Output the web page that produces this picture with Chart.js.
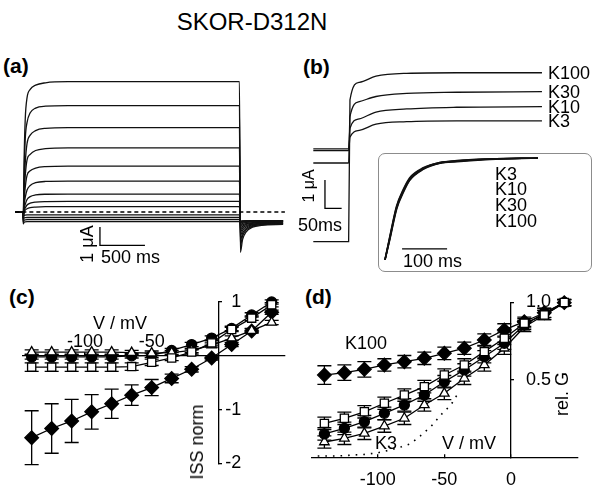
<!DOCTYPE html>
<html>
<head>
<meta charset="utf-8">
<script src="https://cdn.jsdelivr.net/npm/chart.js@4.4.1/dist/chart.umd.min.js"></script>
<style>
  body { margin: 0; background: #fff; }
  #page { position: relative; width: 594px; height: 490px; overflow: hidden; font-family: 'Liberation Sans', Arial, sans-serif; color: #000; }
  canvas { position: absolute; }
  .lbl { position: absolute; font-size: 18px; line-height: 1; white-space: nowrap; transform: translateY(-50%); }
  .mid { transform: translate(-50%, -50%); }
  .rot { transform: translate(-50%, -50%) rotate(-90deg); }
  .panel { font-weight: bold; font-size: 21px; }
  #inset { position: absolute; left: 378px; top: 153px; width: 212px; height: 117px; border: 1px solid #8c8c8c; border-radius: 7px; }
</style>
</head>
<body>
<div id="page">
  <div class="lbl mid" style="left:252px;top:22px;font-size:24px">SKOR-D312N</div>

  <div class="lbl panel" style="left:3px;top:65px">(a)</div>
  <div class="lbl panel" style="left:303px;top:66px">(b)</div>
  <div class="lbl panel" style="left:9px;top:296px">(c)</div>
  <div class="lbl panel" style="left:305px;top:296px">(d)</div>

  <canvas id="chartA" width="300" height="220" style="left:0;top:60px"></canvas>
  <div class="lbl rot" style="left:87px;top:244px">1 μA</div>
  <div class="lbl" style="left:101px;top:257px">500 ms</div>

  <div id="inset"></div>
  <canvas id="chartB" width="297" height="230" style="left:297px;top:50px"></canvas>
  <canvas id="chartInset" width="212" height="117" style="left:379px;top:154px"></canvas>
  <div class="lbl" style="left:548px;top:73px">K100</div>
  <div class="lbl" style="left:548px;top:92px">K30</div>
  <div class="lbl" style="left:548px;top:107px">K10</div>
  <div class="lbl" style="left:548px;top:121px">K3</div>
  <div class="lbl" style="left:495px;top:174px">K3</div>
  <div class="lbl" style="left:495px;top:189px">K10</div>
  <div class="lbl" style="left:495px;top:205px">K30</div>
  <div class="lbl" style="left:495px;top:221px">K100</div>
  <div class="lbl" style="left:403px;top:261px">100 ms</div>
  <div class="lbl" style="left:298px;top:225px">50ms</div>
  <div class="lbl rot" style="left:309px;top:186px;font-size:16px">1 μA</div>

  <canvas id="chartC" width="297" height="210" style="left:0;top:280px"></canvas>
  <div class="lbl mid" style="left:120px;top:323px">V / mV</div>
  <div class="lbl rot" style="left:197px;top:442px">ISS norm</div>

  <canvas id="chartD" width="297" height="210" style="left:297px;top:280px"></canvas>
  <div class="lbl" style="left:345px;top:343px">K100</div>
  <div class="lbl" style="left:375px;top:443px">K3</div>
  <div class="lbl" style="left:442px;top:443px">V / mV</div>
  <div class="lbl rot" style="left:562px;top:394px">rel. G</div>
</div>

<script>
const FONT = "'Liberation Sans', Arial, sans-serif"
Chart.defaults.font.family = FONT
Chart.defaults.color = '#000'

// (a) voltage-step traces: time in ms, current in µA
const timeA = [-85, -2, 3, 12, 25, 45, 80, 140, 250, 500, 2405, 2415, 2440, 2480, 2550, 2650, 2890]
const tracesA = [
	[0, 0, -0.3, 2.8, 5.1, 6.25, 6.7, 6.93, 7.06, 7.12, 7.12, -2.2, -1.5, -1.08, -0.83, -0.73, -0.68],
	[0, 0, -0.3, 2.0, 4.0, 4.9, 5.42, 5.68, 5.78, 5.81, 5.81, -1.85, -1.3, -0.98, -0.78, -0.7, -0.66],
	[0, 0, -0.3, 1.4, 2.7, 3.75, 4.2, 4.45, 4.57, 4.61, 4.61, -1.55, -1.15, -0.9, -0.75, -0.68, -0.64],
	[0, 0, -0.3, 1.0, 2.0, 2.85, 3.15, 3.36, 3.46, 3.5, 3.5, -1.3, -1.0, -0.82, -0.71, -0.65, -0.62],
	[0, 0, -0.3, 0.6, 1.35, 2.0, 2.25, 2.4, 2.48, 2.51, 2.51, -1.1, -0.88, -0.75, -0.67, -0.62, -0.6],
	[0, 0, -0.3, 0.35, 0.8, 1.2, 1.45, 1.6, 1.67, 1.69, 1.69, -0.95, -0.78, -0.68, -0.62, -0.59, -0.57],
	[0, 0, -0.3, 0.15, 0.42, 0.68, 0.84, 0.93, 0.97, 0.98, 0.98, -0.8, -0.7, -0.63, -0.58, -0.56, -0.55],
	[0, 0, -0.3, 0.05, 0.22, 0.38, 0.48, 0.54, 0.57, 0.58, 0.58, -0.7, -0.62, -0.57, -0.55, -0.53, -0.52],
	[0, 0, -0.3, 0.0, 0.1, 0.18, 0.24, 0.27, 0.29, 0.29, 0.29, -0.62, -0.56, -0.53, -0.51, -0.5, -0.5],
	[0, 0, -0.35, -0.2, -0.17, -0.16, -0.16, -0.16, -0.16, -0.16, -0.16, -0.55, -0.52, -0.5, -0.49, -0.49, -0.49],
	[0, 0, -0.45, -0.33, -0.31, -0.3, -0.3, -0.3, -0.3, -0.3, -0.3, -0.55, -0.52, -0.5, -0.49, -0.49, -0.49],
	[0, 0, -0.55, -0.45, -0.43, -0.42, -0.42, -0.42, -0.42, -0.42, -0.42, -0.52, -0.5, -0.49, -0.48, -0.48, -0.48],
	[0, 0, -0.65, -0.56, -0.54, -0.53, -0.53, -0.53, -0.53, -0.53, -0.53, -0.5, -0.49, -0.48, -0.48, -0.48, -0.48],
]
const zeroLineA = [{ x: -85, y: 0 }, { x: 2910, y: 0 }]
const scaleBarA = [{ x: 855, y: -0.82 }, { x: 855, y: -1.82 }, { x: 1355, y: -1.82 }]

// (b) traces at different external K+
const timeB = [-108, -2, 2, 30, 80, 172, 322, 578]
const k100B = [-2.78, -2.78, 2.23, 2.85, 3.07, 3.17, 3.19, 3.19]
const k30B = [0, 0, 1.64, 2.17, 2.35, 2.46, 2.5, 2.52]
const k10B = [0.5, 0.5, 1.23, 1.56, 1.8, 1.91, 1.97, 1.99]
const k3B = [0.44, 0.44, 0.91, 1.15, 1.37, 1.46, 1.49, 1.49]
const scaleBarB = [{ x: -73, y: -0.6 }, { x: -73, y: -1.6 }, { x: -23, y: -1.6 }]

// (b) inset, normalised activation
const timeInset = [0, 11, 26, 41, 55, 85, 122, 160, 233, 340]
const insetK3 = [0.02, 0.24, 0.53, 0.69, 0.8, 0.9, 0.955, 0.97, 0.99, 1.0]
const insetK10 = [0.02, 0.23, 0.52, 0.68, 0.79, 0.895, 0.95, 0.97, 0.99, 1.0]
const insetK30 = [0.02, 0.25, 0.54, 0.7, 0.81, 0.905, 0.955, 0.975, 0.99, 1.0]
const insetK100 = [0.02, 0.22, 0.51, 0.67, 0.785, 0.89, 0.95, 0.965, 0.985, 1.0]
const scaleBarInset = [{ x: 38, y: 0.125 }, { x: 138, y: 0.125 }]

// (c) and (d) share the voltage steps
const voltages = [-140, -125, -110, -95, -80, -65, -50, -35, -20, -5, 10, 25, 40]

const issK3 = [0.07, 0.07, 0.07, 0.07, 0.07, 0.06, 0.05, 0.06, 0.1, 0.2, 0.33, 0.47, 0.62]
const issK10 = [-0.02, -0.02, -0.02, -0.02, -0.02, 0.0, 0.01, 0.1, 0.21, 0.33, 0.51, 0.76, 1.0]
const issK30 = [-0.21, -0.21, -0.21, -0.21, -0.21, -0.2, -0.12, -0.04, 0.07, 0.24, 0.49, 0.7, 0.95]
const issK100 = [-1.52, -1.35, -1.21, -1.04, -0.89, -0.73, -0.59, -0.42, -0.25, -0.04, 0.21, 0.46, 0.81]
const issErrK3 = [0.04, 0.04, 0.04, 0.04, 0.04, 0.04, 0.04, 0.04, 0.04, 0.04, 0.04, 0.04, 0.04]
const issErrK10 = [0.04, 0.04, 0.04, 0.04, 0.04, 0.04, 0.04, 0.04, 0.04, 0.04, 0.04, 0.04, 0.04]
const issErrK30 = [0.08, 0.08, 0.08, 0.08, 0.08, 0.07, 0.06, 0.05, 0.04, 0.04, 0.04, 0.04, 0.04]
const issErrK100 = [0.5, 0.46, 0.4, 0.32, 0.27, 0.19, 0.15, 0.08, 0.05, 0.04, 0.04, 0.04, 0.04]
const xTicksC = [-100, -50]
const yTicksC = [1, -1, -2]
const yTickLabelsC = ['1', '-1', '-2']

const gK3 = [0.1, 0.124, 0.156, 0.203, 0.253, 0.339, 0.414, 0.511, 0.597, 0.705, 0.842, 0.919, 0.997]
const gK10 = [0.152, 0.188, 0.231, 0.285, 0.339, 0.403, 0.489, 0.565, 0.65, 0.737, 0.855, 0.932, 1.0]
const gK30 = [0.22, 0.253, 0.295, 0.35, 0.403, 0.457, 0.532, 0.597, 0.683, 0.769, 0.866, 0.919, 1.0]
const gK100 = [0.532, 0.547, 0.569, 0.597, 0.618, 0.64, 0.672, 0.705, 0.758, 0.823, 0.876, 0.934, 0.999]
const gErr = [0.04, 0.04, 0.04, 0.04, 0.04, 0.04, 0.04, 0.04, 0.04, 0.04, 0.03, 0.03, 0.02]
const gErrK100 = [0.06, 0.05, 0.05, 0.04, 0.04, 0.04, 0.04, 0.04, 0.04, 0.04, 0.03, 0.03, 0.02]
// dotted K3 curve in (d)
const fitV = [-145, -130, -120, -110, -100, -90, -82, -75, -68, -60, -52, -45, -40]
const fitG = [0.01, 0.01, 0.015, 0.02, 0.03, 0.05, 0.07, 0.09, 0.14, 0.2, 0.28, 0.34, 0.41]
const xTicksD = [-100, -50, 0]
const yTicksD = [1, 0.5]
const yTickLabelsD = ['1.0', '0.5']

const pairs = (xs, ys) => xs.map((x, i) => ({ x: x, y: ys[i] }))

const baseOptions = scales => ({
	responsive: false,
	animation: false,
	events: [],
	layout: { padding: 0, autoPadding: false },
	plugins: { legend: { display: false }, tooltip: { enabled: false } },
	scales: scales,
})

const hiddenScales = (xmin, xmax, ymin, ymax) => ({
	x: { type: 'linear', display: false, min: xmin, max: xmax },
	y: { type: 'linear', display: false, min: ymin, max: ymax },
})

const trace = (points, width) => ({
	data: points,
	showLine: true,
	borderColor: '#111',
	borderWidth: width || 1.3,
	pointRadius: 0,
	cubicInterpolationMode: 'monotone',
	clip: false,
})

const bar = points => ({
	data: points,
	showLine: true,
	borderColor: '#000',
	borderWidth: 1.3,
	pointRadius: 0,
	clip: false,
})

// (a)
new Chart(document.getElementById('chartA'), {
	type: 'scatter',
	data: {
		datasets: [
			Object.assign(bar(zeroLineA), { borderDash: [4, 3] }),
			...tracesA.map(values => trace(pairs(timeA, values))),
			bar(scaleBarA),
		],
	},
	options: baseOptions(hiddenScales(-255.6, 3077.8, -3.716, 8.306)),
})

// (b)
new Chart(document.getElementById('chartB'), {
	type: 'scatter',
	data: {
		datasets: [
			trace(pairs(timeB, k3B)),
			trace(pairs(timeB, k10B)),
			trace(pairs(timeB, k30B)),
			trace(pairs(timeB, k100B)),
			bar(scaleBarB),
		],
	},
	options: baseOptions(hiddenScales(-156.9, 734.1, -4.134, 3.993)),
})

new Chart(document.getElementById('chartInset'), {
	type: 'scatter',
	data: {
		datasets: [
			trace(pairs(timeInset, insetK3), 1.6),
			trace(pairs(timeInset, insetK10), 1.6),
			trace(pairs(timeInset, insetK30), 1.6),
			trace(pairs(timeInset, insetK100), 1.6),
			bar(scaleBarInset),
		],
	},
	options: baseOptions(hiddenScales(-13.3, 457.8, -0.087, 1.038)),
})

// error bars drawn from the chart's own scales
const errorBars = {
	id: 'errorBars',
	beforeDatasetsDraw(chart) {
		const { ctx, scales: { x, y } } = chart
		ctx.save()
		ctx.strokeStyle = '#000'
		ctx.lineWidth = 1.3
		chart.data.datasets.forEach(ds => {
			if (!ds.errors) return
			ds.data.forEach((p, i) => {
				const px = x.getPixelForValue(p.x)
				const top = y.getPixelForValue(p.y + ds.errors[i])
				const bottom = y.getPixelForValue(p.y - ds.errors[i])
				ctx.beginPath()
				ctx.moveTo(px, top)
				ctx.lineTo(px, bottom)
				ctx.moveTo(px - 7, top)
				ctx.lineTo(px + 7, top)
				ctx.moveTo(px - 7, bottom)
				ctx.lineTo(px + 7, bottom)
				ctx.stroke()
			})
		})
		ctx.restore()
	},
}

// y tick labels sit on the right of an axis crossing at V = 0
const yLabels = (values, texts, dx, align) => ({
	id: 'yLabels',
	afterDraw(chart) {
		const { ctx, scales: { x, y } } = chart
		const x0 = x.getPixelForValue(0) + dx
		ctx.save()
		ctx.font = '18px ' + FONT
		ctx.fillStyle = '#000'
		ctx.textAlign = align
		ctx.textBaseline = 'middle'
		values.forEach((v, i) => ctx.fillText(texts[i], x0, y.getPixelForValue(v)))
		ctx.restore()
	},
})

const markers = {
	K3: { pointStyle: 'triangle', pointRadius: 5.5, pointBackgroundColor: '#fff' },
	K10: { pointStyle: 'circle', pointRadius: 5, pointBackgroundColor: '#000' },
	K30: { pointStyle: 'rect', pointRadius: 5.8, pointBackgroundColor: '#fff' },
	K100: { pointStyle: 'rectRot', pointRadius: 6.8, pointBackgroundColor: '#000' },
}

const series = (label, values, errors) => Object.assign({
	label: label,
	data: pairs(voltages, values),
	errors: errors,
	showLine: true,
	borderColor: '#000',
	borderWidth: 1.3,
	pointBorderColor: '#000',
	pointBorderWidth: 1.3,
	clip: false,
}, markers[label])

const crossingScales = (xr, yr, xTicks, yTicks, labelPadding) => ({
	x: {
		type: 'linear', min: xr[0], max: xr[1],
		position: { y: 0 },
		afterFit: s => { s.height = 0 },
		afterBuildTicks: s => { s.ticks = xTicks.map(v => ({ value: v })) },
		grid: { drawOnChartArea: false, tickLength: -4, color: '#000', lineWidth: 1.3 },
		border: { color: '#000', width: 1.3 },
		ticks: { font: { size: 18 }, padding: labelPadding, maxRotation: 0, autoSkip: false, callback: v => String(v) },
	},
	y: {
		type: 'linear', min: yr[0], max: yr[1],
		position: { x: 0 },
		afterFit: s => { s.width = 0 },
		afterBuildTicks: s => { s.ticks = yTicks.map(v => ({ value: v })) },
		grid: { drawOnChartArea: false, tickLength: -4, color: '#000', lineWidth: 1.3 },
		border: { color: '#000', width: 1.3 },
		ticks: { display: false },
	},
})

// (c)
const optionsC = baseOptions(crossingScales([-146.5, 50], [-2, 1], xTicksC, yTicksC, -21))
optionsC.layout.padding = { left: 23, right: 12, top: 22, bottom: 26.5 }
new Chart(document.getElementById('chartC'), {
	type: 'scatter',
	data: {
		datasets: [
			series('K30', issK30, issErrK30),
			series('K3', issK3, issErrK3),
			series('K10', issK10, issErrK10),
			series('K100', issK100, issErrK100),
		],
	},
	options: optionsC,
	plugins: [errorBars, yLabels(yTicksC, yTickLabelsC, 23, 'right')],
})

// (d)
const optionsD = baseOptions(crossingScales([-149.3, 50.3], [0, 1], xTicksD, yTicksD, 15.7))
optionsD.layout.padding = { left: 15, right: 16, top: 22.5, bottom: 32.5 }
new Chart(document.getElementById('chartD'), {
	type: 'scatter',
	data: {
		datasets: [
			series('K30', gK30, gErr),
			series('K10', gK10, gErr),
			series('K3', gK3, gErr),
			series('K100', gK100, gErrK100),
			{
				data: pairs(fitV, fitG),
				showLine: true,
				borderColor: '#000',
				borderWidth: 1.6,
				borderDash: [1.6, 6],
				pointRadius: 0,
				clip: false,
			},
		],
	},
	options: optionsD,
	plugins: [errorBars, yLabels(yTicksD, yTickLabelsD, 15, 'left')],
})
</script>
</body>
</html>
